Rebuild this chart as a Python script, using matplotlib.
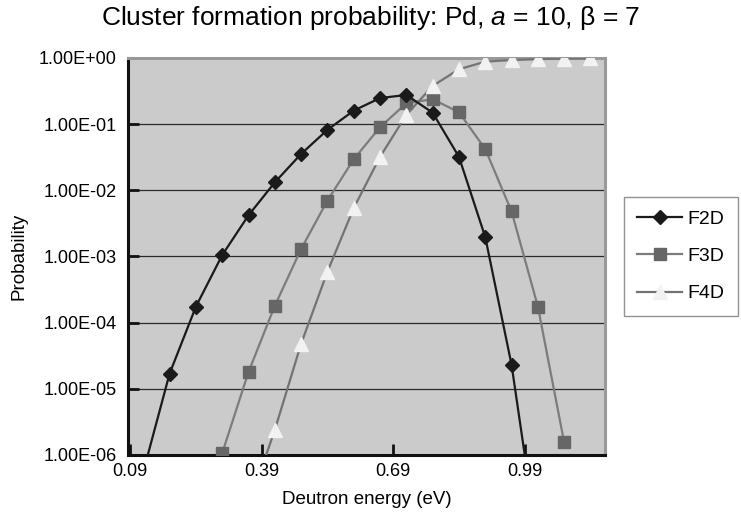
import numpy as np
import matplotlib
matplotlib.use("Agg")
import matplotlib.pyplot as plt
from matplotlib.ticker import FixedLocator, FuncFormatter, NullLocator

plt.rcParams["font.family"] = ["Liberation Sans", "DejaVu Sans"]
plt.rcParams["mathtext.fontset"] = "custom"
plt.rcParams["mathtext.rm"] = "Liberation Sans"
plt.rcParams["mathtext.it"] = "Liberation Sans:italic"

# deutron energies (eV), one point every 0.06 eV
energy_f2d = [0.12, 0.18, 0.24, 0.30, 0.36, 0.42, 0.48, 0.54, 0.60, 0.66, 0.72,
              0.78, 0.84, 0.90, 0.96, 1.02]
prob_f2d = [5.6e-7, 1.7e-5, 1.75e-4, 1.05e-3, 4.2e-3, 1.32e-2, 3.55e-2, 8.2e-2,
            0.16, 0.248, 0.276, 0.149, 0.032, 1.96e-3, 2.3e-5, 4.4e-8]

energy_f3d = [0.30, 0.36, 0.42, 0.48, 0.54, 0.60, 0.66, 0.72, 0.78, 0.84, 0.90,
              0.96, 1.02, 1.08]
prob_f3d = [1.07e-6, 1.8e-5, 1.8e-4, 1.3e-3, 7.0e-3, 2.95e-2, 0.09, 0.207, 0.238,
            0.151, 0.042, 4.8e-3, 1.75e-4, 1.55e-6]

energy_f4d = [0.36, 0.42, 0.48, 0.54, 0.60, 0.66, 0.72, 0.78, 0.84, 0.90, 0.96,
              1.02, 1.08, 1.14]
prob_f4d = [1.7e-7, 2.4e-6, 4.8e-5, 5.9e-4, 5.4e-3, 3.2e-2, 0.138, 0.378, 0.675,
            0.88, 0.93, 0.96, 0.98, 0.99]

x_ticks = [0.09, 0.39, 0.69, 0.99]
y_ticks = [1e-6, 1e-5, 1e-4, 1e-3, 1e-2, 1e-1, 1e0]

fig = plt.figure(figsize=(7.41, 5.26), dpi=100)
ax = fig.add_axes([0.1727, 0.135, 0.6437, 0.7548])
ax.set_facecolor("#cbcbcb")

ax.plot(energy_f2d, prob_f2d, color="#1a1a1a", linewidth=1.6, marker="D",
        markersize=7, markerfacecolor="#1a1a1a", markeredgecolor="#1a1a1a",
        label="F2D", zorder=4)
ax.plot(energy_f3d, prob_f3d, color="#7c7c7c", linewidth=1.6, marker="s",
        markersize=8.5, markerfacecolor="#666666", markeredgecolor="#666666",
        label="F3D", zorder=3)
ax.plot(energy_f4d, prob_f4d, color="#737373", linewidth=1.6, marker="^",
        markersize=10, markerfacecolor="#f2f2f2", markeredgecolor="#f2f2f2",
        label="F4D", zorder=3)

ax.set_yscale("log")
ax.set_ylim(1e-6, 1.0)
ax.set_xlim(0.085, 1.173)

ax.yaxis.set_major_locator(FixedLocator(y_ticks))
ax.yaxis.set_minor_locator(NullLocator())
ax.yaxis.set_major_formatter(FuncFormatter(lambda v, pos: f"{v:.2E}"))
ax.xaxis.set_major_locator(FixedLocator(x_ticks))
ax.xaxis.set_major_formatter(FuncFormatter(lambda v, pos: f"{v:.2f}"))

ax.tick_params(axis="both", direction="in", length=8, width=2, labelsize=13,
               color="#111111", pad=6)
ax.tick_params(axis="y", pad=8)

ax.grid(axis="y", color="#2a2a2a", linewidth=0.9)
ax.set_axisbelow(True)

for side in ("left", "bottom"):
    ax.spines[side].set_color("#111111")
    ax.spines[side].set_linewidth(2.2)
for side in ("top", "right"):
    ax.spines[side].set_color("#999999")
    ax.spines[side].set_linewidth(2.2)

ax.set_xlabel("Deutron energy (eV)", fontsize=13.5, labelpad=8)
ax.set_ylabel("Probability", fontsize=13.5, labelpad=8)

fig.text(0.5, 0.965, "Cluster formation probability: Pd, $\\mathit{a}$ = 10, β = 7",
         ha="center", va="center", fontsize=19)

leg = ax.legend(loc="center left", bbox_to_anchor=(1.039, 0.5), fontsize=14,
                frameon=True, fancybox=False, edgecolor="#777777",
                handlelength=2.3, borderpad=0.7, labelspacing=1.0,
                handletextpad=0.3, borderaxespad=0.0)
leg.get_frame().set_linewidth(1.0)

fig.savefig("out.png", dpi=100)
